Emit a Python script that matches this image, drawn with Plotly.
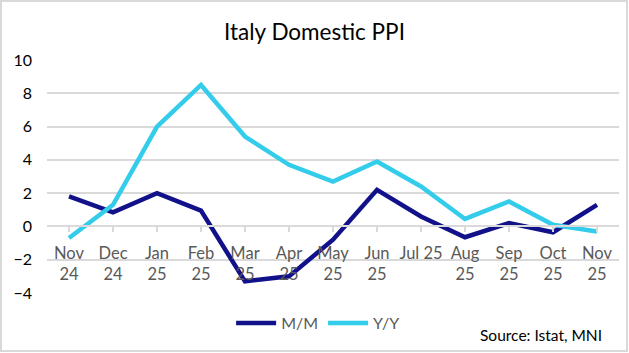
import plotly.graph_objects as go

categories = ["Nov<br>24", "Dec<br>24", "Jan<br>25", "Feb<br>25", "Mar<br>25", "Apr<br>25",
              "May<br>25", "Jun<br>25", "Jul 25", "Aug<br>25", "Sep<br>25", "Oct<br>25", "Nov<br>25"]
mm = [1.8, 0.85, 2.0, 0.95, -3.3, -3.0, -0.8, 2.2, 0.6, -0.65, 0.2, -0.35, 1.3]
yy = [-0.7, 1.3, 6.0, 8.5, 5.4, 3.7, 2.7, 3.9, 2.4, 0.45, 1.5, 0.1, -0.3]
y_ticks = [-4, -2, 0, 2, 4, 6, 8, 10]

FONT = "Lato"
W, H = 629, 353
ml, mr, mt, mb = 47, 10, 60, 60

fig = go.Figure()
fig.add_trace(go.Scatter(x=list(range(len(categories))), y=mm, mode="lines", name="M/M",
                         line=dict(color="#11118A", width=4.5)))
fig.add_trace(go.Scatter(x=list(range(len(categories))), y=yy, mode="lines", name="Y/Y",
                         line=dict(color="#33CCEB", width=4.5)))

ymin, ymax = -4, 10
zero_pos = (0 - ymin) / (ymax - ymin)

fig.update_layout(
    width=W, height=H,
    margin=dict(l=ml, r=mr, t=mt, b=mb),
    paper_bgcolor="white", plot_bgcolor="white",
    font=dict(family=FONT, size=16, color="#000000"),
    title=dict(text="Italy Domestic PPI", x=0.5, xanchor="center", y=1 - 32 / H, yanchor="middle",
               font=dict(family=FONT, size=22.5, color="#000000")),
    xaxis=dict(
        tickmode="array", tickvals=list(range(len(categories))), ticktext=categories,
        range=[-0.5, len(categories) - 0.5],
        anchor="free", position=zero_pos,
        showline=True, linecolor="#D9D9D9", linewidth=1.5,
        ticks="outside", tickson="boundaries", ticklen=5, tickcolor="#D9D9D9", tickwidth=1.5,
        ticklabelstandoff=7,
        showgrid=False, zeroline=False,
        tickfont=dict(family=FONT, size=16.5, color="#595959"),
    ),
    yaxis=dict(
        range=[ymin, ymax], tickvals=y_ticks, showgrid=True, gridcolor="#D9D9D9", gridwidth=1.5,
        zeroline=False, showline=False, ticks="", ticklabelstandoff=14,
        tickfont=dict(family=FONT, size=16, color="#000000"),
    ),
    legend=dict(orientation="h", x=0.474, xanchor="center", y=-(323 - (H - mb)) / (H - mt - mb),
                yanchor="middle", font=dict(family=FONT, size=16, color="#595959"),
                itemwidth=40, tracegroupgap=0),
    showlegend=True,
)

pw = W - ml - mr
ph = H - mt - mb
fig.add_annotation(text="Source: Istat, MNI", xref="paper", yref="paper",
                   x=(604 - ml) / pw, y=-(335 - (H - mb)) / ph, xanchor="right", yanchor="middle",
                   showarrow=False, font=dict(family=FONT, size=15.5, color="#000000"))

# chart border
fig.add_shape(type="rect", xref="paper", yref="paper",
              x0=(1 - ml) / pw, x1=(627 - ml) / pw,
              y0=-(351 - (H - mb)) / ph, y1=1 + (mt - 1) / ph,
              line=dict(color="#D9D9D9", width=2), fillcolor="rgba(0,0,0,0)", layer="below")

fig.write_html("out.html")
